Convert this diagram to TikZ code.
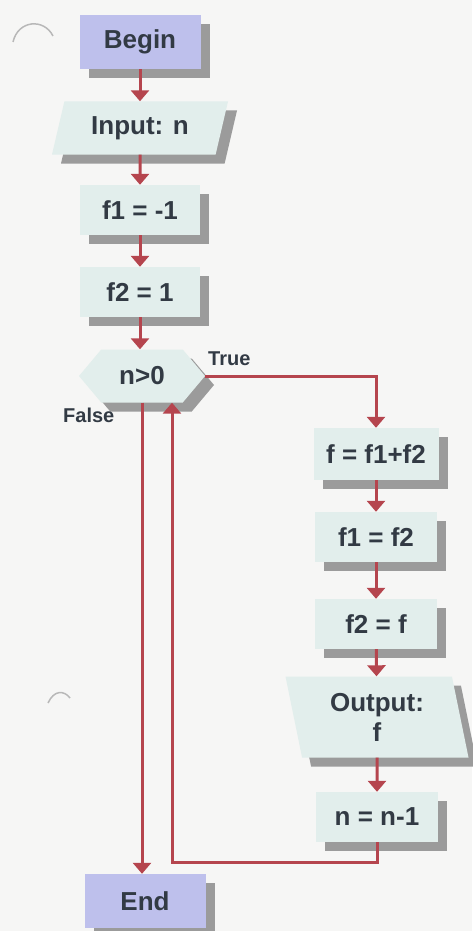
\documentclass[tikz,border=0pt]{standalone}
\usepackage{fontspec}
\setmainfont{Liberation Sans}
\usetikzlibrary{shapes.geometric,shapes.symbols,shadows,arrows.meta}
\definecolor{bg}{HTML}{F6F6F5}
\definecolor{boxfill}{HTML}{E2EEEC}
\definecolor{termfill}{HTML}{BEC0EC}
\definecolor{shade}{HTML}{9B9B9B}
\definecolor{flow}{HTML}{B5454E}
\definecolor{ink}{HTML}{323A44}
\definecolor{punch}{HTML}{B8B8B8}
\begin{document}
\begin{tikzpicture}[x=1pt,y=-1pt,
  base/.style={font=\fontsize{26}{30}\selectfont\bfseries, text=ink, inner sep=0pt,
    drop shadow={shadow xshift=9pt, shadow yshift=-9pt, fill=shade, opacity=1}},
  proc/.style={base, rectangle, fill=boxfill, minimum width=122pt, minimum height=50pt},
  term/.style={base, rectangle, fill=termfill, minimum width=121pt, minimum height=54pt},
  io/.style={base, trapezium, trapezium stretches body=true, fill=boxfill, align=center},
  dec/.style={base, signal, signal to=west and east, signal pointer angle=100, fill=boxfill,
    minimum width=126pt, minimum height=53pt},
  lbl/.style={font=\fontsize{20}{24}\selectfont\bfseries, text=ink, inner sep=0pt},
  flowline/.style={draw=flow, line width=3pt, -{Triangle[width=18pt,length=11pt]}}]
\fill[bg] (0,0) rectangle (472,931);
\useasboundingbox (0,0) rectangle (472,931);
% hole punches (scan)
\draw[punch, line width=1.5pt] (13,42) .. controls (18,20) and (44,18) .. (53,36);
\draw[punch, line width=1.5pt] (48,703) .. controls (54,690) and (64,690) .. (70,698);
% left column
\node[term] (begin) at (140,42) {Begin};
\node[io, trapezium left angle=62, trapezium right angle=118, minimum width=176pt, minimum height=53pt] (input) at (140,128) {Input: n};
\node[proc, minimum width=120pt] (f1) at (140,210) {f1 = -1};
\node[proc, minimum width=120pt] (f2) at (140,292) {f2 = 1};
\node[dec] (cond) at (142,376) {n>0};
\node[term] (end) at (145,901) {End};
% right column
\node[proc, minimum width=125pt, minimum height=52pt] (sum) at (376,454) {f = f1+f2};
\node[proc] (a1) at (376,537) {f1 = f2};
\node[proc] (a2) at (376,624) {f2 = f};
\node[io, trapezium left angle=109, trapezium right angle=71, minimum width=183pt, minimum height=81pt] (out) at (377,717) {Output:\\f};
\node[proc] (dec1) at (377,817) {n = n-1};
% labels
\node[lbl, anchor=base west] (tl) at (208,365) {True};
\node[lbl, anchor=base west] (fl) at (63,422) {False};
% connectors
\draw[flowline] (begin) -- (input);
\draw[flowline] (input) -- (f1);
\draw[flowline] (f1) -- (f2);
\draw[flowline] (f2.south) -- (f2.south |- cond.north);
\draw[flowline] (cond.east) -- (sum.north |- cond.east) -- (sum.north);
\draw[flowline] (sum) -- (a1);
\draw[flowline] (a1) -- (a2);
\draw[flowline] (a2) -- (out);
\draw[flowline] (out) -- (dec1);
\draw[flowline] (cond.south) -- (cond.south |- end.north);
\coordinate (ret) at (172,862);
\draw[flowline] (dec1.south) |- (ret) -- (ret |- cond.south);
\end{tikzpicture}
\end{document}
